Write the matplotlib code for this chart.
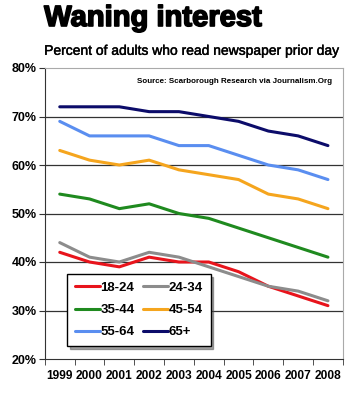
import matplotlib
matplotlib.use("Agg")
import matplotlib.pyplot as plt
import matplotlib.patheffects as pe
import numpy as np

years = ["1999", "2000", "2001", "2002", "2003", "2004", "2005", "2006", "2007", "2008"]
s_18_24 = [42, 40, 39, 41, 40, 40, 38, 35, 33, 31]
s_24_34 = [44, 41, 40, 42, 41, 39, 37, 35, 34, 32]
s_35_44 = [54, 53, 51, 52, 50, 49, 47, 45, 43, 41]
s_45_54 = [63, 61, 60, 61, 59, 58, 57, 54, 53, 51]
s_55_64 = [69, 66, 66, 66, 64, 64, 62, 60, 59, 57]
s_65p = [72, 72, 72, 71, 71, 70, 69, 67, 66, 64]
labels = ["18-24", "24-34", "35-44", "45-54", "55-64", "65+"]
colors = ["#e8141c", "#8c8c8c", "#1f8a1f", "#f5a51e", "#5a8ef0", "#0c0c6a"]
yticks = [20, 30, 40, 50, 60, 70, 80]

plt.rcParams['font.family'] = ['Liberation Sans', 'DejaVu Sans']
fig = plt.figure(figsize=(3.56, 4.0), dpi=100)
ax = fig.add_axes([0.126, 0.1025, 0.837, 0.7275])

x = np.arange(len(years))
series = [s_18_24, s_24_34, s_35_44, s_45_54, s_55_64, s_65p]
handles = []
for s, lab, c in zip(series, labels, colors):
    h, = ax.plot(x, s, color=c, lw=2.2, label=lab, solid_capstyle='round')
    handles.append(h)

ax.set_xlim(-0.5, len(years) - 0.5)
ax.set_ylim(20, 80)
ax.set_yticks(yticks)
ax.set_yticklabels([f"{v}%" for v in yticks], fontsize=9, fontweight='bold')
ax.set_xticks(x)
ax.set_xticklabels(years, fontsize=8.6, fontweight='bold')
ax.tick_params(axis='x', length=0, pad=8)
ax.set_xticks(np.arange(-0.5, len(years)), minor=True)
ax.tick_params(axis='x', which='minor', length=4, direction='out', color='#333333')
ax.tick_params(axis='y', length=4, direction='out', color='#333333', pad=2)
for v in yticks[1:-1]:
    ax.axhline(v, color='#333333', lw=0.9, zorder=0)
for sp in ['top', 'right']:
    ax.spines[sp].set_color('#aaaaaa')
for sp in ['left', 'bottom']:
    ax.spines[sp].set_color('#333333')

ax.text(0.965, 0.965, "Source: Scarborough Research via Journalism.Org",
        transform=ax.transAxes, ha='right', va='top', fontsize=5.8, fontweight='bold')

order = [0, 2, 4, 1, 3, 5]
leg = ax.legend([handles[i] for i in order], [labels[i] for i in order],
                ncol=2, loc='lower left', bbox_to_anchor=(0.065, 0.035), fontsize=9.5,
                frameon=True, shadow=True, fancybox=False, handlelength=1.9,
                handletextpad=0.05, columnspacing=0.6, labelspacing=0.75,
                borderpad=0.6, edgecolor='black', borderaxespad=0.2)
leg.get_frame().set_linewidth(1.0)
for t in leg.get_texts():
    t.set_fontweight('bold')

fig.text(0.124, 0.955, "Waning interest", fontsize=21, fontweight='bold', ha='left', va='center',
         path_effects=[pe.withStroke(linewidth=1.2, foreground='black')])
fig.text(0.124, 0.873, "Percent of adults who read newspaper prior day", fontsize=10,
         ha='left', va='center', path_effects=[pe.withStroke(linewidth=0.3, foreground='black')])

fig.savefig("out.png", dpi=100)
